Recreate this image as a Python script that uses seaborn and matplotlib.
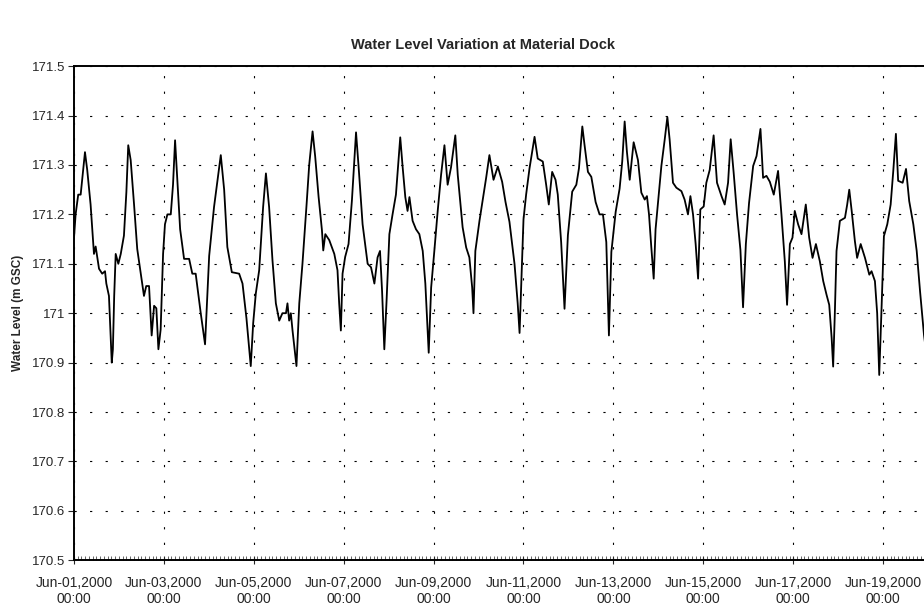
import pandas as pd
import matplotlib.pyplot as plt
import matplotlib.dates as mdates
import matplotlib.ticker as mticker
import seaborn as sns

# Hourly-ish readings, hours after Jun-01 2000 00:00
hours_a = [0.0, 0.9, 2.3, 3.6, 5.9, 7.1, 8.9, 10.2, 10.7, 11.6,
           13.4, 15.1, 16.6, 17.3, 18.7, 19.6, 20.2, 20.8, 21.5, 22.3,
           23.7, 25.0, 26.7, 28.0, 29.0, 30.3, 32.1, 33.8, 35.7, 37.4,
           38.6, 40.1, 41.5, 42.8, 44.0, 45.1, 46.3, 47.6, 48.6, 49.9,
           51.7, 52.9, 54.0, 55.2, 56.7, 58.8, 61.5, 63.2, 65.0, 67.7,
           70.0, 72.2]
level_a = [171.15, 171.2, 171.24, 171.24, 171.326, 171.29, 171.22, 171.15, 171.12, 171.135,
           171.09, 171.08, 171.085, 171.06, 171.035, 170.955, 170.9, 170.927, 171.035, 171.12,
           171.1, 171.12, 171.157, 171.245, 171.34, 171.31, 171.22, 171.13, 171.08, 171.035,
           171.055, 171.055, 170.955, 171.015, 171.01, 170.927, 170.967, 171.12, 171.18, 171.2,
           171.2, 171.26, 171.35, 171.27, 171.17, 171.11, 171.11, 171.08, 171.08, 171.0,
           170.937, 171.116]

hours_b = [74.8, 78.4, 80.2, 81.9, 84.3, 88.2, 90.0, 92.1, 94.4, 95.7,
           97.1, 98.9, 101.0, 102.5, 104.2, 106.0, 107.8, 109.6, 111.3, 113.2,
           114.0, 114.9, 115.8, 116.7, 118.8, 120.3, 122.0, 124.2, 125.6, 127.4,
           128.8, 130.6, 132.4, 133.1, 134.2, 136.3, 139.0, 140.7, 141.6, 142.5,
           143.4, 144.8, 146.6]
level_b = [171.215, 171.32, 171.25, 171.134, 171.083, 171.08, 171.06, 170.99, 170.893, 170.98,
           171.04, 171.087, 171.215, 171.283, 171.215, 171.107, 171.02, 170.985, 171.0, 171.0,
           171.02, 170.985, 171.0, 170.965, 170.893, 171.02, 171.1, 171.22, 171.30, 171.368,
           171.317, 171.236, 171.168, 171.127, 171.16, 171.148, 171.12, 171.087, 171.02, 170.965,
           171.08, 171.114, 171.14]

hours_c = [148.4, 150.6, 152.0, 154.1, 156.8, 158.6, 160.4, 162.1, 163.4, 164.5,
           165.7, 166.9, 168.4, 170.1, 171.9, 173.3, 174.2, 175.5, 176.9, 178.1,
           179.1, 180.8, 182.6, 184.4, 186.2, 187.6, 189.4, 190.7, 192.4, 194.2,
           196.0, 197.8, 199.5, 201.3, 203.6, 204.9, 206.2, 207.5, 209.4, 211.1,
           212.6, 213.3, 214.3, 216.5, 218.2, 220.1, 221.8]
level_c = [171.228, 171.366, 171.295, 171.18, 171.1, 171.093, 171.06, 171.113, 171.126, 171.045,
           170.927, 171.025, 171.16, 171.2, 171.24, 171.31, 171.356, 171.295, 171.235, 171.207,
           171.235, 171.187, 171.17, 171.16, 171.126, 171.06, 170.92, 171.052, 171.126, 171.207,
           171.28, 171.34, 171.26, 171.295, 171.36, 171.28, 171.228, 171.174, 171.133, 171.113,
           171.052, 171.0, 171.126, 171.187, 171.228, 171.275, 171.32]

hours_d = [224.0, 226.3, 228.6, 230.4, 232.5, 235.2, 236.9, 237.9, 238.8, 240.0,
           241.4, 243.2, 245.9, 247.6, 250.3, 252.1, 253.5, 255.3, 257.1, 258.3,
           260.1, 261.9, 263.7, 266.0, 268.2, 269.6, 271.4, 272.6, 274.4, 276.2,
           278.5, 280.6, 282.4, 284.2, 285.1, 285.6, 286.9, 289.2, 291.3, 292.7,
           294.0, 295.2, 296.7, 298.8]
level_d = [171.27, 171.297, 171.266, 171.225, 171.185, 171.1, 171.02, 170.96, 171.056, 171.19,
           171.24, 171.293, 171.357, 171.313, 171.307, 171.26, 171.22, 171.286, 171.27, 171.24,
           171.144, 171.009, 171.158, 171.246, 171.26, 171.293, 171.378, 171.34, 171.286, 171.276,
           171.225, 171.2, 171.2, 171.144, 171.022, 170.955, 171.124, 171.205, 171.252, 171.307,
           171.388, 171.327, 171.27, 171.346]

hours_e = [301.1, 302.9, 304.7, 305.9, 307.0, 308.2, 309.5, 310.5, 311.8, 313.6,
           315.4, 316.8, 318.0, 319.8, 321.6, 324.3, 326.0, 327.8, 329.1, 330.5,
           331.9, 333.2, 334.4, 336.2, 337.6, 339.4, 341.5, 343.3, 345.7, 347.4,
           349.2, 350.6, 352.2, 354.0, 355.8, 357.2, 358.7, 360.4, 362.6, 364.4,
           366.5, 367.9, 369.7, 371.5]
level_e = [171.31, 171.244, 171.23, 171.237, 171.2, 171.135, 171.07, 171.17, 171.223, 171.298,
           171.352, 171.397, 171.352, 171.264, 171.254, 171.247, 171.23, 171.2, 171.237, 171.2,
           171.14, 171.07, 171.21, 171.216, 171.264, 171.29, 171.36, 171.264, 171.237, 171.22,
           171.264, 171.352, 171.284, 171.2, 171.128, 171.012, 171.14, 171.223, 171.298, 171.318,
           171.373, 171.274, 171.278, 171.266]

hours_f = [373.6, 375.9, 377.7, 379.5, 380.7, 382.2, 383.6, 384.8, 386.6, 388.4,
           390.7, 392.5, 394.3, 396.1, 398.2, 400.0, 401.8, 403.2, 404.5, 405.3,
           406.2, 407.1, 408.9, 411.6, 412.8, 413.9, 415.2, 416.9, 418.1, 420.0,
           422.3, 424.6, 425.8, 427.6, 428.8, 429.9, 431.2, 432.4, 434.2, 436.0,
           437.4, 438.8, 440.0, 442.4, 444.2, 445.9, 448.1, 449.9, 451.7, 453.8,
           455.0]
level_f = [171.24, 171.288, 171.2, 171.105, 171.017, 171.14, 171.153, 171.207, 171.18, 171.16,
           171.22, 171.153, 171.112, 171.14, 171.105, 171.065, 171.037, 171.017, 170.95, 170.892,
           171.0, 171.126, 171.187, 171.193, 171.22, 171.25, 171.207, 171.146, 171.112, 171.14,
           171.112, 171.078, 171.085, 171.065, 171.0, 170.875, 171.017, 171.156, 171.18, 171.22,
           171.288, 171.363, 171.268, 171.264, 171.292, 171.227, 171.18, 171.126, 171.044, 170.956,
           170.92]

y_ticks = [170.5, 170.6, 170.7, 170.8, 170.9, 171.0, 171.1, 171.2, 171.3, 171.4, 171.5]
label_days = [1, 3, 5, 7, 9, 11, 13, 15, 17, 19]
start = pd.Timestamp("2000-06-01 00:00")
view_hours = 453.8  # the scan cuts the chart off a little before Jun-20

# Putting the segments together
hours = hours_a + hours_b + hours_c + hours_d + hours_e + hours_f
levels = level_a + level_b + level_c + level_d + level_e + level_f
df = pd.DataFrame({"Time": start + pd.to_timedelta(hours, unit="h"),
                   "Water Level": levels})

sns.set_style("white")
plt.rcParams["font.family"] = ["Liberation Sans", "DejaVu Sans"]

fig = plt.figure(figsize=(9.24, 6.07), dpi=100)
ax = fig.add_axes([0.080, 0.077, 0.920, 0.814])

sns.lineplot(data=df, x="Time", y="Water Level", color="black", linewidth=1.3, ax=ax)

ax.set_xlim(start, start + pd.Timedelta(hours=view_hours))
ax.set_ylim(170.5, 171.5)

# x axis: label every 2 days (odd dates), small ticks every 2 hours
ax.xaxis.set_major_locator(mdates.DayLocator(bymonthday=label_days))
ax.xaxis.set_major_formatter(mdates.DateFormatter("%b-%d,%Y\n%H:%M"))
ax.xaxis.set_minor_locator(mdates.HourLocator(interval=2))
ax.set_yticks(y_ticks)
ax.yaxis.set_major_formatter(mticker.FuncFormatter(lambda v, p: f"{round(v, 1):g}"))

ax.tick_params(axis="x", which="major", direction="inout", length=6, width=0.8,
               labelsize=10, pad=8, bottom=True)
ax.tick_params(axis="x", which="minor", direction="in", length=3, width=0.5, bottom=True)
ax.tick_params(axis="y", direction="out", length=4, width=0.8, labelsize=9.5, left=True, pad=2)
for lab in ax.get_xticklabels():
    lab.set_linespacing(1.25)

ax.grid(True, which="major", color="black", linestyle=(0, (2, 12)), linewidth=0.8)

for side in ["left", "top", "bottom"]:
    ax.spines[side].set_color("black")
    ax.spines[side].set_linewidth(1.4)
ax.spines["right"].set_visible(False)

ax.set_xlabel("")
ax.set_ylabel("Water Level (m GSC)", fontsize=8.5, fontweight="bold", labelpad=6)
fig.text(0.523, 0.926, "Water Level Variation at Material Dock",
         ha="center", va="center", fontsize=10.5, fontweight="bold")

plt.savefig("out.png", dpi=100)
